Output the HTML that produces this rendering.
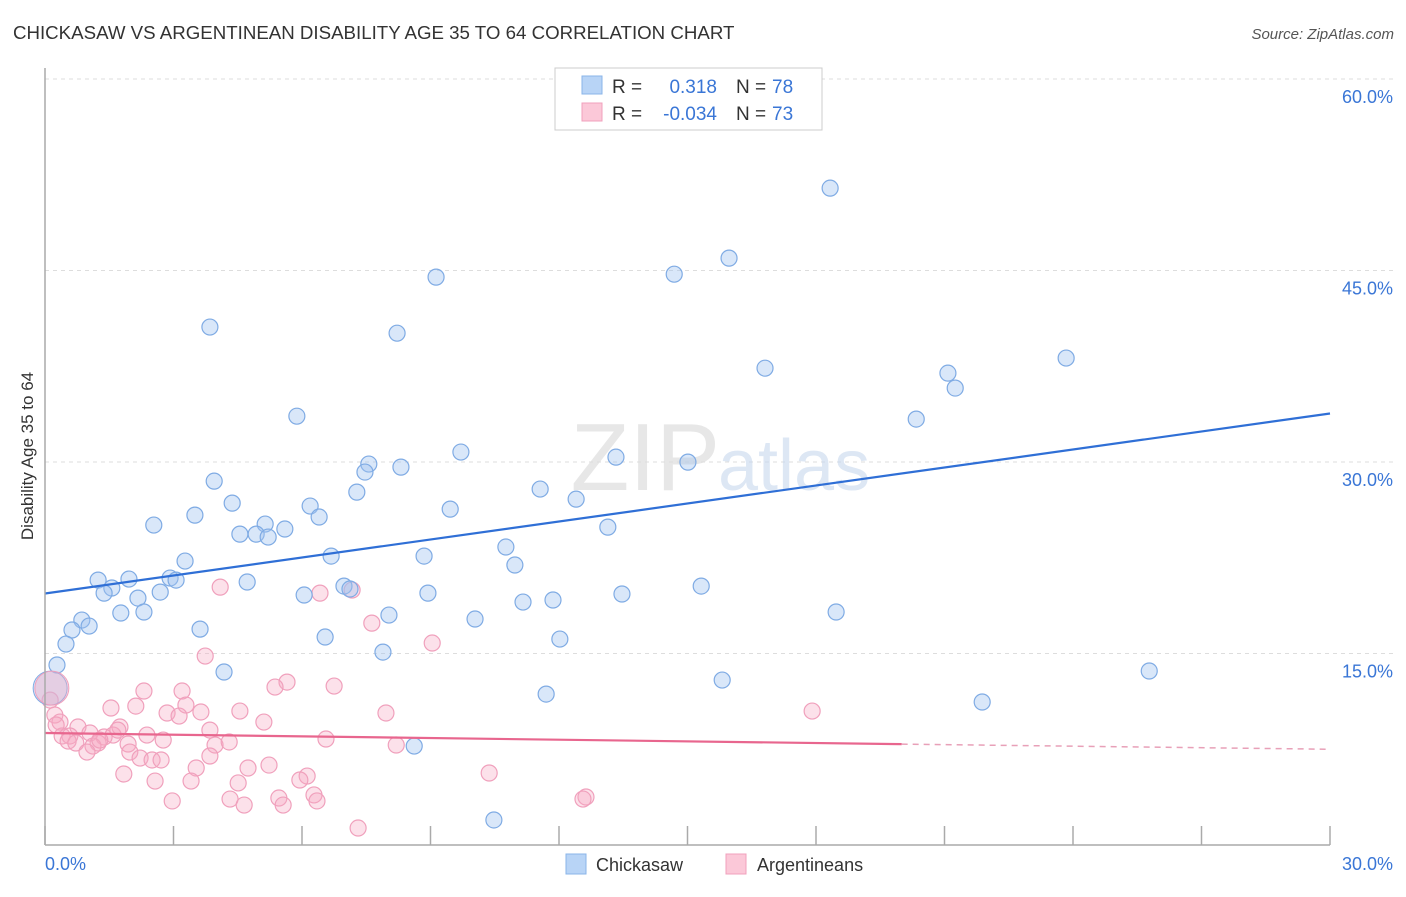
<!DOCTYPE html>
<html><head><meta charset="utf-8"><style>
body{margin:0;background:#fff;font-family:"Liberation Sans",sans-serif;}
svg text{font-family:"Liberation Sans",sans-serif;}
</style></head><body>
<svg id="chart" width="1406" height="892" xmlns="http://www.w3.org/2000/svg">
<text x="13" y="39" font-size="18.7" fill="#333">CHICKASAW VS ARGENTINEAN DISABILITY AGE 35 TO 64 CORRELATION CHART</text>
<text x="1394" y="39" font-size="15" fill="#555" font-style="italic" text-anchor="end">Source: ZipAtlas.com</text>
<g id="grid"></g>
<text x="720" y="490" font-size="96" text-anchor="end" fill="#ddd" font-family="Liberation Serif" opacity="0.7">ZIP</text>
<text x="718" y="490" font-size="72" fill="#c8d8ee" opacity="0.6">atlas</text>
<g id="points"></g>
<g id="lines"></g>
<g id="axes"></g>
<text transform="translate(33,456) rotate(-90)" font-size="17" fill="#333" text-anchor="middle">Disability Age 35 to 64</text>
<g>
<rect x="555" y="68" width="267" height="62" fill="#fff" stroke="#ccc"/>
<rect x="582" y="76" width="20" height="18" fill="#b8d4f6" stroke="#8ab4e8"/>
<rect x="582" y="103" width="20" height="18" fill="#fbc8d8" stroke="#f0a0bc"/>
<text x="612" y="93" font-size="19" fill="#333">R =</text><text x="717" y="93" font-size="19" fill="#3a76d6" text-anchor="end">0.318</text>
<text x="736" y="93" font-size="19" fill="#333">N =</text><text x="772" y="93" font-size="19" fill="#3a76d6">78</text>
<text x="612" y="120" font-size="19" fill="#333">R =</text><text x="717" y="120" font-size="19" fill="#3a76d6" text-anchor="end">-0.034</text>
<text x="736" y="120" font-size="19" fill="#333">N =</text><text x="772" y="120" font-size="19" fill="#3a76d6">73</text>
</g>
<g>
<rect x="566" y="854" width="20" height="20" fill="#b8d4f6" stroke="#8ab4e8"/>
<text x="596" y="871" font-size="18" fill="#333">Chickasaw</text>
<rect x="726" y="854" width="20" height="20" fill="#fbc8d8" stroke="#f0a0bc"/>
<text x="757" y="871" font-size="18" fill="#333">Argentineans</text>
</g>
</svg>
<script>
const yTicks=[15,30,45,60];
const yTickLabels=["15.0%","30.0%","45.0%","60.0%"];
const xTicks=[0,3,6,9,12,15,18,21,24,27,30];
const blueX=[18.33,15.97,14.69,9.13,3.85,8.22,23.84,16.81,21.08,21.25,5.88,20.34,9.71,13.33,15.01,7.56,8.31,7.47,3.95,7.28,11.56,12.4,4.37,6.19,9.46,3.5,6.4,2.54,5.14,13.14,4.55,4.93,5.21,5.6,10.76,6.68,8.85,3.27,10.97,2.92,3.06,1.24,1.96,4.72,1.56,6.98,7.12,15.32,2.69,1.38,6.05,8.94,13.47,2.17,11.86,11.16,1.77,2.31,8.03,18.47,10.04,0.86,1.03,0.63,3.62,6.54,12.02,0.49,7.89,0.28,4.18,25.78,15.81,11.7,21.88,8.62,10.48];
const blueY=[51.45,45.97,44.71,44.48,40.57,40.09,38.14,37.35,36.96,35.79,33.59,33.36,30.78,30.38,29.99,29.84,29.6,29.21,28.5,27.64,27.88,27.09,26.78,26.55,26.31,25.84,25.69,25.06,25.14,24.9,24.35,24.35,24.12,24.75,23.34,22.63,22.63,22.24,21.93,20.91,20.75,20.75,20.83,20.6,20.13,20.28,20.05,20.28,19.81,19.73,19.58,19.73,19.66,19.34,19.19,19.03,18.17,18.25,18.01,18.25,17.7,17.62,17.15,16.84,16.91,16.29,16.13,15.74,15.11,14.1,13.55,13.63,12.92,11.82,11.2,7.75,1.96];
const pinkX=[4.09,6.42,7.17,7.63,9.04,3.74,5.65,5.37,6.75,2.31,3.2,2.12,3.29,2.85,4.55,3.64,3.13,5.11,7.96,17.91,0.23,0.35,0.77,1.75,1.05,2.38,0.4,0.58,1.38,1.59,2.76,0.54,1.24,0.72,1.12,1.94,3.97,4.3,6.56,8.2,1.98,0.98,2.22,3.85,2.5,2.71,3.53,4.74,5.23,1.84,6.12,10.37,2.57,5.95,3.41,4.51,5.46,2.97,4.32,6.28,6.35,12.63,12.56,4.65,5.56,7.31,1.54,0.12,0.26,1.28,1.7,3.85];
const pinkY=[20.2,19.73,19.97,17.38,15.82,14.8,12.76,12.37,12.45,12.06,12.06,10.88,10.96,10.34,10.49,10.42,10.1,9.63,10.34,10.49,10.18,9.63,9.24,9.24,8.77,8.61,8.54,8.54,8.46,8.61,8.22,8.14,7.99,7.99,7.75,7.91,7.83,8.07,8.3,7.83,7.28,7.28,6.81,6.97,6.66,6.66,6.03,6.03,6.26,5.56,5.4,5.64,5.01,5.09,5.01,4.86,3.68,3.45,3.6,3.92,3.45,3.76,3.6,3.13,3.13,1.33,10.73,11.35,9.4,8.22,9.0,9.0];
const bigBlue=[0.12,12.29];
const bigPink=[0.16,12.29];
const blueTrend=[19.7,33.8];
const pinkTrend=[8.77,7.9,7.5];
const pinkSolidEnd=20;

const NS="http://www.w3.org/2000/svg";
const X=v=>45+v*(1285/30);
const Y=v=>845-v*(191.5/15);
function mk(tag,attrs,parent){const e=document.createElementNS(NS,tag);for(const k in attrs)e.setAttribute(k,attrs[k]);parent.appendChild(e);return e;}
const grid=document.getElementById('grid'),axes=document.getElementById('axes'),pts=document.getElementById('points'),lines=document.getElementById('lines');
yTicks.forEach((t,i)=>{
 const l=mk('line',{x1:45,x2:1394,y1:Y(t),y2:Y(t),stroke:'#ddd','stroke-dasharray':'4,4'},grid);
 
 
 const tx=mk('text',{x:1393,y:Y(t)+24,'font-size':18,fill:'#3a76d6','text-anchor':'end'},axes);
 tx.textContent=yTickLabels[i];
 
 
});
const ax=mk('line',{x1:45,x2:1330,y1:845,y2:845,stroke:'#aaa','stroke-width':1.5},axes);


const ay=mk('line',{x1:45,x2:45,y1:68,y2:845,stroke:'#aaa','stroke-width':1.5},axes);


xTicks.forEach(t=>{
 const l=mk('line',{x1:X(t),x2:X(t),y1:826,y2:845,stroke:'#aaa','stroke-width':1.5},axes);
 
 
});
const xl0=mk('text',{x:45,y:870,'font-size':18,fill:'#3a76d6'},axes);xl0.textContent='0.0%';


const xl1=mk('text',{x:1393,y:870,'font-size':18,fill:'#3a76d6','text-anchor':'end'},axes);xl1.textContent='30.0%';


pinkX.forEach((x,i)=>{
 const c=mk('circle',{cx:X(x),cy:Y(pinkY[i]),r:8,fill:'rgba(246,170,196,0.35)',stroke:'#f0a0bc','stroke-width':1.2},pts);
 
 
});
blueX.forEach((x,i)=>{
 const c=mk('circle',{cx:X(x),cy:Y(blueY[i]),r:8,fill:'rgba(160,196,240,0.4)',stroke:'#7fabe4','stroke-width':1.2},pts);
 
 
});
const b1=mk('circle',{cx:X(bigBlue[0]),cy:Y(bigBlue[1]),r:17,fill:'rgba(160,196,240,0.4)',stroke:'#7fabe4'},pts);


const b2=mk('circle',{cx:X(bigPink[0]),cy:Y(bigPink[1]),r:17,fill:'rgba(246,170,196,0.4)',stroke:'#f0a0bc'},pts);


const bl=mk('line',{x1:X(0),y1:Y(blueTrend[0]),x2:X(30),y2:Y(blueTrend[1]),stroke:'#2f6fd6','stroke-width':2.2},lines);


const pl=mk('line',{x1:X(0),y1:Y(pinkTrend[0]),x2:X(pinkSolidEnd),y2:Y(pinkTrend[1]),stroke:'#e8668e','stroke-width':2.2},lines);


const pd=mk('line',{x1:X(pinkSolidEnd),y1:Y(pinkTrend[1]),x2:X(30),y2:Y(pinkTrend[2]),stroke:'#e8a0b8','stroke-width':1.5,'stroke-dasharray':'6,5'},lines);


</script>
</body></html>
